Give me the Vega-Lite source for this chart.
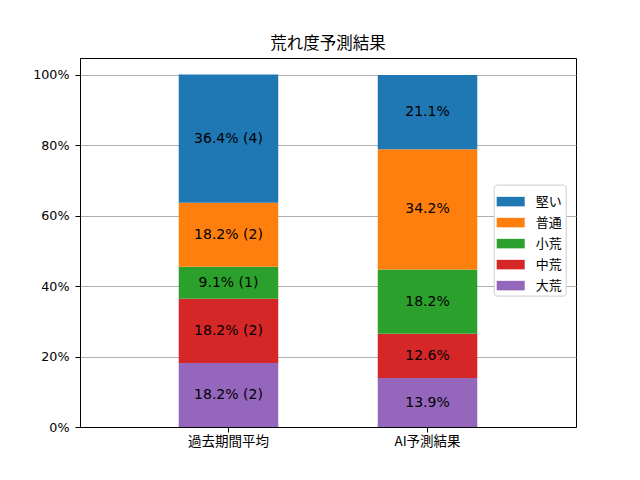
{
  "$schema": "https://vega.github.io/schema/vega-lite/v6.json",
  "width": 496,
  "height": 369,
  "autosize": {"type": "none"},
  "padding": {"left": 80, "top": 58, "right": 64, "bottom": 53},
  "background": "white",
  "title": {"text": "荒れ度予測結果", "font": "Noto Sans CJK JP", "fontSize": 16.5, "fontWeight": "normal", "color": "black", "offset": 6},
  "data": {
    "values": [
      {"group": "過去期間平均", "type": "大荒", "k": 1, "pct": 18.2, "label": "18.2% (2)"},
      {"group": "過去期間平均", "type": "中荒", "k": 2, "pct": 18.2, "label": "18.2% (2)"},
      {"group": "過去期間平均", "type": "小荒", "k": 3, "pct": 9.1, "label": "9.1% (1)"},
      {"group": "過去期間平均", "type": "普通", "k": 4, "pct": 18.2, "label": "18.2% (2)"},
      {"group": "過去期間平均", "type": "堅い", "k": 5, "pct": 36.4, "label": "36.4% (4)"},
      {"group": "AI予測結果", "type": "大荒", "k": 1, "pct": 13.9, "label": "13.9%"},
      {"group": "AI予測結果", "type": "中荒", "k": 2, "pct": 12.6, "label": "12.6%"},
      {"group": "AI予測結果", "type": "小荒", "k": 3, "pct": 18.2, "label": "18.2%"},
      {"group": "AI予測結果", "type": "普通", "k": 4, "pct": 34.2, "label": "34.2%"},
      {"group": "AI予測結果", "type": "堅い", "k": 5, "pct": 21.1, "label": "21.1%"}
    ]
  },
  "transform": [
    {"stack": "pct", "groupby": ["group"], "sort": [{"field": "k", "order": "ascending"}], "as": ["y0", "y1"]},
    {"calculate": "(datum.y0 + datum.y1) / 2", "as": "mid"}
  ],
  "encoding": {
    "x": {
      "field": "group", "type": "nominal", "sort": ["過去期間平均", "AI予測結果"],
      "scale": {"paddingInner": 0.5, "paddingOuter": 0.496},
      "axis": {"title": null, "labelAngle": 0, "grid": false, "labelFontSize": 13.5, "labelFont": "Noto Sans CJK JP", "labelColor": "black", "domainColor": "black", "tickColor": "black", "tickSize": 5, "labelPadding": 2}
    }
  },
  "layer": [
    {
      "mark": {"type": "bar"},
      "encoding": {
        "y": {
          "field": "y0", "type": "quantitative",
          "scale": {"domain": [0, 104.8], "nice": false},
          "axis": {"title": null, "values": [0, 20, 40, 60, 80, 100], "labelExpr": "datum.value + '%'", "grid": true, "gridColor": "#b0b0b0", "gridWidth": 1, "labelFontSize": 12.7, "labelFont": "DejaVu Sans", "labelColor": "black", "domainColor": "black", "tickColor": "black", "tickSize": 5, "labelPadding": 6}
        },
        "y2": {"field": "y1"},
        "color": {
          "field": "type", "type": "nominal",
          "scale": {"domain": ["堅い", "普通", "小荒", "中荒", "大荒"], "range": ["#1f77b4", "#ff7f0e", "#2ca02c", "#d62728", "#9467bd"]},
          "legend": {
            "title": null, "orient": "none", "legendX": 413.7, "legendY": 126.6,
            "symbolType": "M-1,-0.34H1V0.34H-1Z", "symbolSize": 784, "symbolStrokeWidth": 0,
            "labelFont": "Noto Sans CJK JP", "labelFontSize": 13, "labelColor": "black",
            "rowPadding": 0, "labelOffset": 11,
            "fillColor": "white", "strokeColor": "#cccccc", "cornerRadius": 3, "padding": 3
          }
        }
      }
    },
    {
      "mark": {"type": "text", "font": "DejaVu Sans", "fontSize": 14, "color": "black", "baseline": "middle"},
      "encoding": {
        "y": {"field": "mid", "type": "quantitative"},
        "text": {"field": "label"}
      }
    }
  ],
  "config": {
    "view": {"stroke": "black", "strokeWidth": 1}
  }
}
